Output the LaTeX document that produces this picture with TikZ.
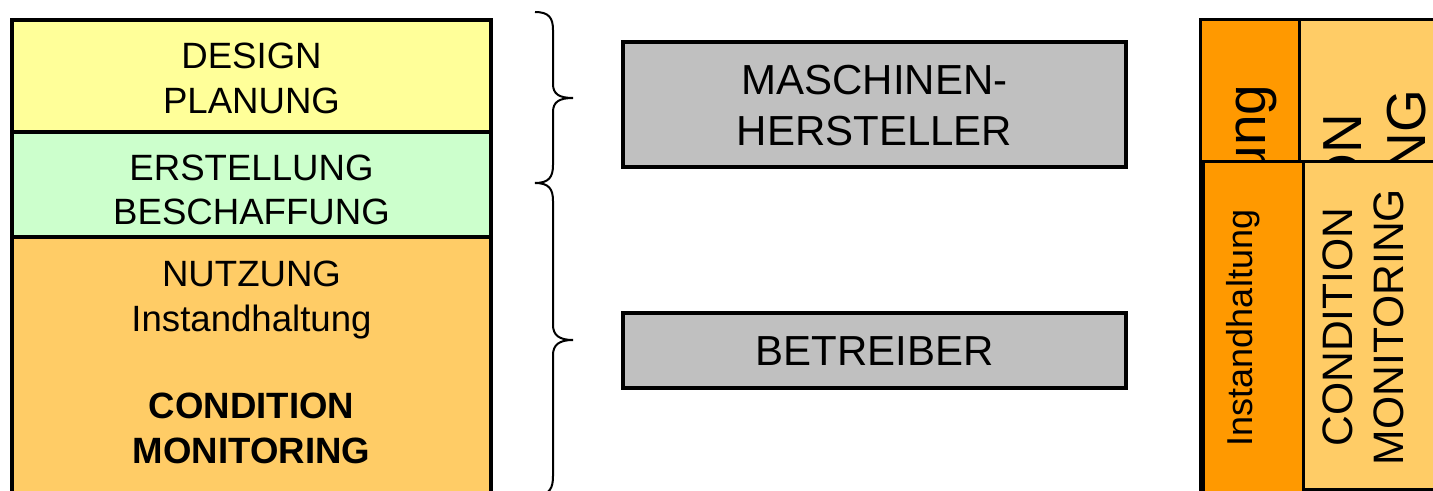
\documentclass[tikz,border=0pt]{standalone}
\usepackage{fontspec}
\setmainfont{Liberation Sans}
\definecolor{cYellow}{HTML}{FFFF99}
\definecolor{cGreen}{HTML}{CCFFCC}
\definecolor{cLight}{HTML}{FFCC66}
\definecolor{cOrange}{HTML}{FF9900}
\definecolor{cGray}{HTML}{C0C0C0}
\begin{document}
\begin{tikzpicture}[x=0.5pt,y=-0.5pt,
  phase/.style={draw=black, line width=1.6pt},
  graybox/.style={draw=black, fill=cGray, line width=1.7pt},
  colbox/.style={draw=black, line width=1.5pt},
  bracepath/.style={draw=black, line width=1pt},
  lbl/.style={inner sep=0pt, align=center, font=\fontsize{18.3}{22.5}\selectfont},
  glbl/.style={inner sep=0pt, align=center, font=\fontsize{21}{25.5}\selectfont},
  rbig/.style={inner sep=0pt, align=center, rotate=90, font=\fontsize{27.5}{32}\selectfont},
  rsmall/.style={inner sep=0pt, align=center, rotate=90}
]
\clip (0,0) rectangle (1433,491);
\fill[white] (0,0) rectangle (1433,491);

% left phase column
\draw[phase, fill=cYellow] (12,20) rectangle (491,132);
\draw[phase, fill=cGreen] (12,132) rectangle (491,237);
\draw[phase, fill=cLight] (12,237) rectangle (491,520);
\node[lbl] (design) at (251.5,78) {DESIGN\\PLANUNG};
\node[lbl, font=\fontsize{18.3}{22}\selectfont] (erst) at (251.5,189.5) {ERSTELLUNG\\BESCHAFFUNG};
\node[lbl] (nutz) at (251.5,299.7) {NUTZUNG\\Instandhaltung};
\node[lbl, font=\fontsize{18.3}{22.5}\selectfont\bfseries] (cmleft) at (251.5,428.5) {CONDITION\\MONITORING};

% braces
\draw[bracepath] (535,12) .. controls (549,12) and (553,18) .. (553,30)
  -- (553,84) .. controls (553,94) and (559,98) .. (573,98)
  .. controls (559,98) and (553,102) .. (553,112)
  -- (553,165) .. controls (553,177) and (549,183) .. (535,183);
\draw[bracepath] (535,183) .. controls (549,183) and (553,189) .. (553,201)
  -- (553,325) .. controls (553,335) and (559,340) .. (573,340)
  .. controls (559,340) and (553,345) .. (553,355)
  -- (553,476) .. controls (553,488) and (550,494) .. (537,496);

% actor boxes
\draw[graybox] (623,42) rectangle (1126,167);
\node[glbl] (masch) at (874.5,105.5) {MASCHINEN-\\HERSTELLER};
\draw[graybox] (623,313) rectangle (1126,388);
\node[glbl] (betr) at (874.5,351) {BETREIBER};

% right: enlarged copy behind
\draw[colbox, fill=cOrange] (1200,20) rectangle (1299,600);
\draw[colbox, fill=cLight] (1299,20) rectangle (1470,600);
\node[rbig, anchor=base] (instbig) at (1265,265) {Instandhaltung};
\node[rbig] (cmbig) at (1375,268) {CONDITION\\MONITORING};

% right: front copy
\draw[colbox, fill=cOrange] (1203,162) rectangle (1303,600);
\draw[colbox, fill=cLight] (1303,162) rectangle (1470,489);
\node[rsmall, anchor=base, font=\fontsize{18}{21}\selectfont] (inst) at (1252,328) {Instandhaltung};
\node[rsmall, font=\fontsize{21.3}{25.5}\selectfont] (cmright) at (1363,327) {CONDITION\\MONITORING};
\end{tikzpicture}
\end{document}
